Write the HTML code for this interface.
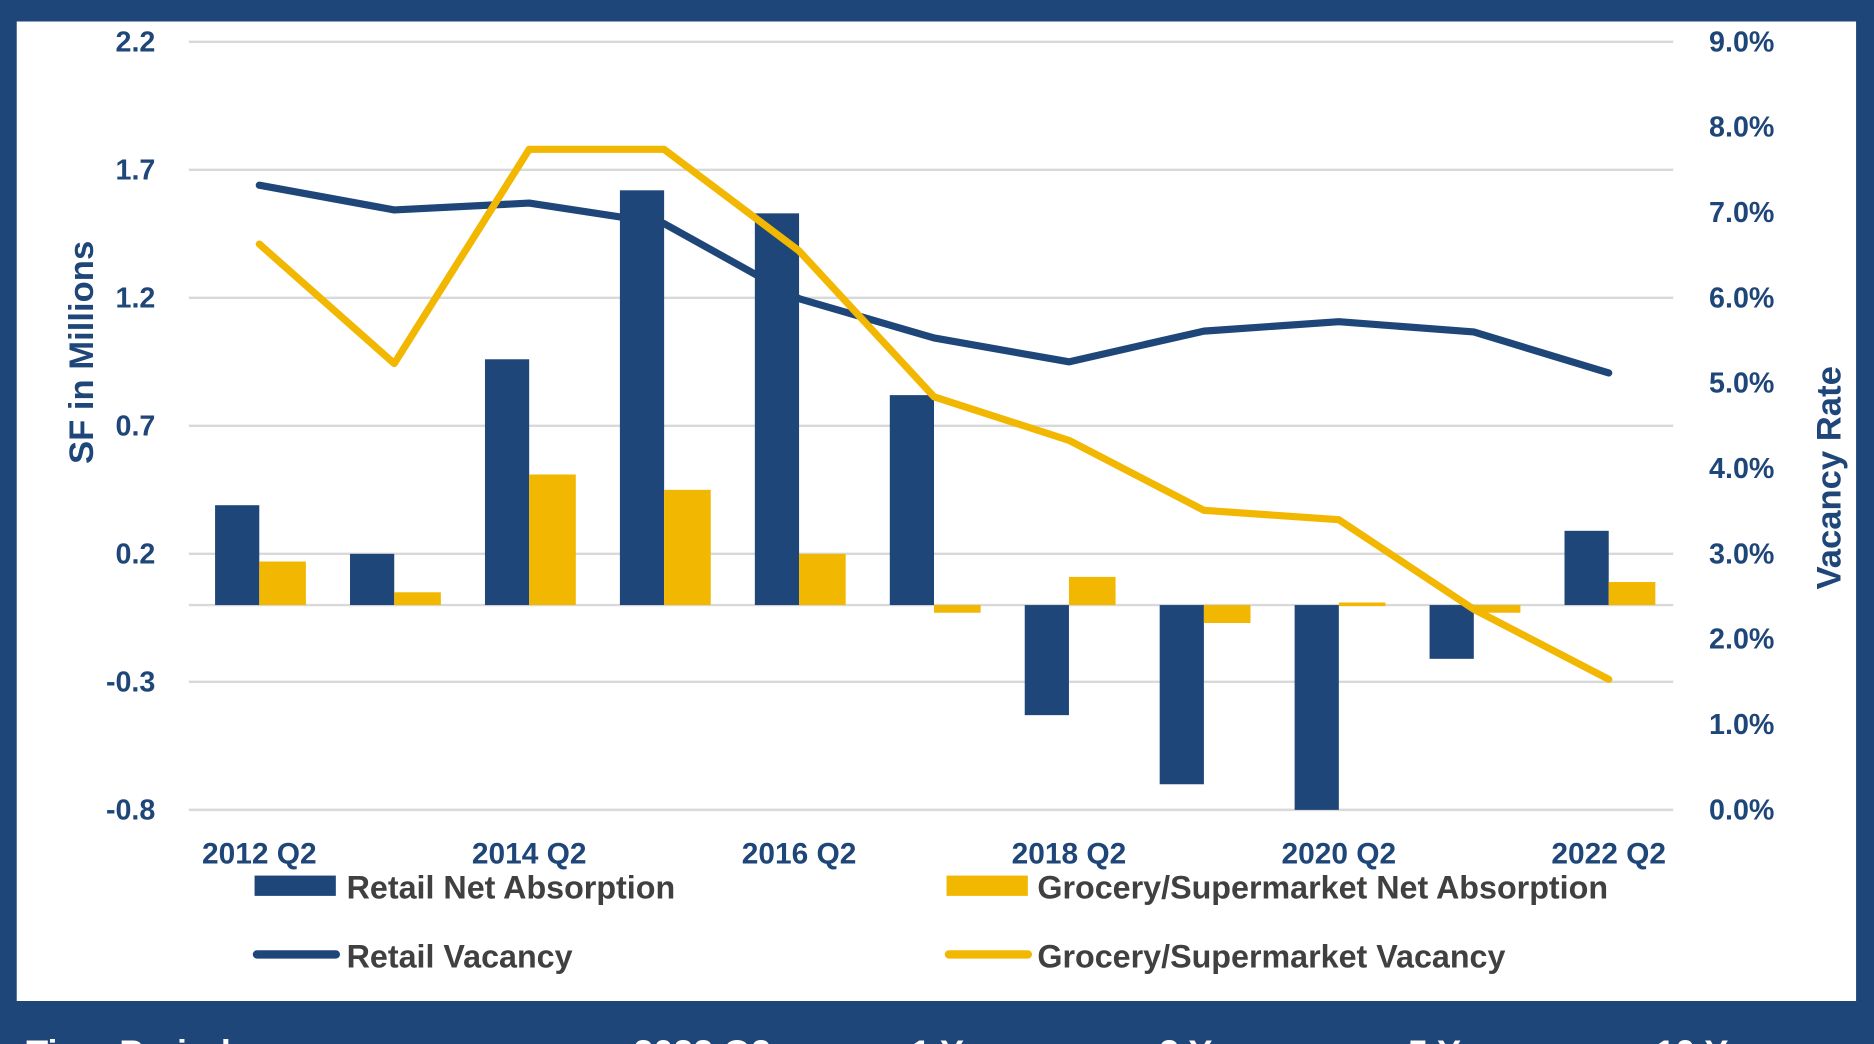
<!DOCTYPE html>
<html><head><meta charset="utf-8"><style>
html,body{margin:0;padding:0;background:#1f4679;}
svg{display:block;}
text{font-family:"Liberation Sans Narrow","Liberation Sans",sans-serif;font-weight:bold;}
</style></head><body>
<svg id="chart" width="1874" height="1044" viewBox="0 0 1568 874" preserveAspectRatio="none" xmlns="http://www.w3.org/2000/svg">
<rect x="0" y="0" width="1568" height="874" fill="#1f4679"/>
<rect x="14" y="18" width="1539" height="820" fill="#ffffff"/>
<g id="grid"></g><g id="bars"></g><g id="lines"></g><g id="axes"></g>
<text x="78" y="295" transform="rotate(-90 78 295)" text-anchor="middle" font-size="29" fill="#1f4679">SF in Millions</text>
<text x="1540" y="400" transform="rotate(-90 1540 400)" text-anchor="middle" font-size="29" fill="#1f4679">Vacancy Rate</text>
<g>
<rect x="213" y="733" width="68" height="17" fill="#1f4679"/>
<text x="290" y="752" font-size="27" fill="#404040">Retail Net Absorption</text>
<rect x="792" y="733" width="68" height="17" fill="#f2b700"/>
<text x="868" y="752" font-size="27" fill="#404040">Grocery/Supermarket Net Absorption</text>
<line x1="215" y1="799" x2="281" y2="799" stroke="#1f4679" stroke-width="7" stroke-linecap="round"/>
<text x="290" y="810" font-size="27" fill="#404040">Retail Vacancy</text>
<line x1="794" y1="799" x2="860" y2="799" stroke="#f2b700" stroke-width="7" stroke-linecap="round"/>
<text x="868" y="810" font-size="27" fill="#404040">Grocery/Supermarket Vacancy</text>
</g>
<g fill="#ffffff" font-size="30">
<text x="22" y="892">Time Period</text>
<text x="530" y="892">2022 Q2</text>
<text x="762" y="892">1 Year</text>
<text x="970" y="892">3 Year</text>
<text x="1178" y="892">5 Year</text>
<text x="1385" y="892">10 Year</text>
</g>
</svg>
<script>
const categories = ["2012 Q2","2013 Q2","2014 Q2","2015 Q2","2016 Q2","2017 Q2","2018 Q2","2019 Q2","2020 Q2","2021 Q2","2022 Q2"];
const xTickLabels = ["2012 Q2","","2014 Q2","","2016 Q2","","2018 Q2","","2020 Q2","","2022 Q2"];
const retailAbsorption = [0.39,0.20,0.96,1.62,1.53,0.82,-0.43,-0.70,-0.80,-0.21,0.29];
const groceryAbsorption = [0.17,0.05,0.51,0.45,0.20,-0.03,0.11,-0.07,0.01,-0.03,0.09];
const retailVacancy = [7.32,7.03,7.11,6.87,5.99,5.53,5.25,5.61,5.72,5.60,5.12];
const groceryVacancy = [6.63,5.23,7.74,7.74,6.55,4.84,4.33,3.51,3.40,2.35,1.53];
const leftTicks = [2.2,1.7,1.2,0.7,0.2,-0.3,-0.8];
const rightTicks = [9,8,7,6,5,4,3,2,1,0];

const NS="http://www.w3.org/2000/svg";
const plotTop=35,plotBot=678,plotX0=158,plotX1=1400;
const yL=v=>plotTop+(2.2-v)/3.0*(plotBot-plotTop);
const yR=v=>plotTop+(9-v)/9*(plotBot-plotTop);
const step=(plotX1-plotX0)/categories.length;
const xC=i=>plotX0+step*(i+0.5)+2.5;
function mk(tag,attrs,parent){const e=document.createElementNS(NS,tag);for(const k in attrs)e.setAttribute(k,attrs[k]);document.getElementById(parent).appendChild(e);return e;}
leftTicks.forEach(v=>{
  const l=mk('line',{x1:plotX0,x2:plotX1,y1:yL(v),y2:yL(v),stroke:'#d9d9d9','stroke-width':2},'grid');
  
  
  const t=mk('text',{x:130,y:yL(v)+8,'text-anchor':'end','font-size':24,fill:'#1f4679'},'axes');
  t.textContent=v.toFixed(1);
  
  
});
rightTicks.forEach(v=>{
  const t=mk('text',{x:1430,y:yR(v)+8,'font-size':24,fill:'#1f4679'},'axes');
  t.textContent=v.toFixed(1)+'%';
  
  
});
const z=mk('line',{x1:plotX0,x2:plotX1,y1:yL(0),y2:yL(0),stroke:'#d9d9d9','stroke-width':2},'grid');


const bw=37;
categories.forEach((c,i)=>{
  const cx=xC(i);
  const a=retailAbsorption[i],g=groceryAbsorption[i];
  const r1=mk('rect',{x:cx-bw,y:Math.min(yL(a),yL(0)),width:bw,height:Math.abs(yL(a)-yL(0)),fill:'#1f4679'},'bars');
  
  
  const r2=mk('rect',{x:cx,y:Math.min(yL(g),yL(0)),width:bw+2,height:Math.max(3,Math.abs(yL(g)-yL(0))),fill:'#f2b700'},'bars');
  
  
  if(xTickLabels[i]){
    const t=mk('text',{x:cx,y:723,'text-anchor':'middle','font-size':25,fill:'#1f4679'},'axes');
    t.textContent=xTickLabels[i];
    
    
  }
});
function drawLine(vals,color,name){
  const p=mk('polyline',{points:vals.map((v,i)=>xC(i)+','+yR(v)).join(' '),fill:'none',stroke:color,'stroke-width':6,'stroke-linejoin':'round','stroke-linecap':'round'},'lines');
  
  
}
drawLine(retailVacancy,'#1f4679','line-retail-vacancy');
drawLine(groceryVacancy,'#f2b700','line-grocery-vacancy');
</script>
</body></html>
